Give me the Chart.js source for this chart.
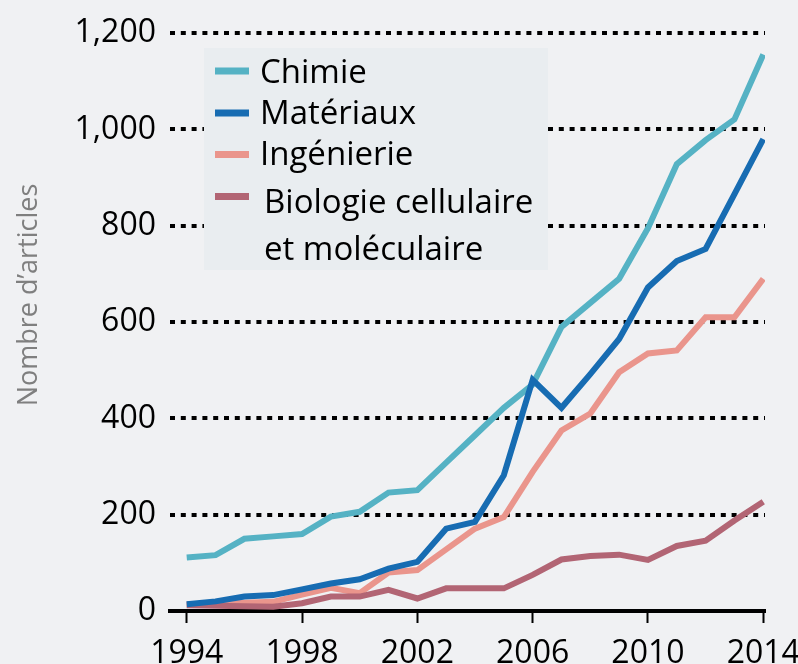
<!DOCTYPE html>
<html>
<head>
<meta charset="utf-8">
<script src="https://cdn.jsdelivr.net/npm/chart.js@4.4.1/dist/chart.umd.min.js"></script>
<style>
  html, body { margin: 0; padding: 0; background: #f0f1f3; }
  #wrap { width: 798px; height: 664px; }
</style>
</head>
<body>
<div id="wrap"><canvas id="chart" width="798" height="664"></canvas></div>
<script>
// Values
const years = [1994, 1995, 1996, 1997, 1998, 1999, 2000, 2001, 2002, 2003, 2004,
               2005, 2006, 2007, 2008, 2009, 2010, 2011, 2012, 2013, 2014];
const chimie = [111, 116, 150, 155, 160, 196, 206, 246, 251, 308, 365,
                422, 470, 590, 640, 690, 795, 928, 978, 1021, 1156];
const materiaux = [14, 20, 30, 33, 45, 57, 66, 88, 102, 171, 185,
                   282, 480, 422, 492, 565, 672, 727, 752, 866, 980];
const ingenierie = [14, 15, 17, 19, 34, 48, 37, 80, 85, 128, 171,
                    195, 289, 375, 410, 496, 535, 541, 610, 610, 690];
const biologie = [12, 11, 10, 9, 16, 30, 30, 44, 26, 47, 47,
                  47, 75, 107, 114, 117, 106, 135, 146, 188, 227];

const seriesNames = ['Chimie', 'Matériaux', 'Ingénierie', ['Biologie cellulaire', 'et moléculaire']];
const seriesColors = ['#55b2c4', '#176cb2', '#ea958c', '#b26574'];
const xTicks = [1994, 1998, 2002, 2006, 2010, 2014];
const yTicks = [0, 200, 400, 600, 800, 1000, 1200];
const yTitle = 'Nombre d\u2019articles';

const FONT = '"Open Sans", "Noto Sans", sans-serif';

function toPoints(values) {
    return values.map((v, i) => ({ x: years[i], y: v }));
}

const lineDefaults = {
    borderWidth: 6,
    pointRadius: 0,
    tension: 0,
    fill: false,
    borderJoinStyle: 'miter',
    borderCapStyle: 'butt'
};

// legend box + y title drawn by hand
const legendPlugin = {
    id: 'customLegend',
    afterDraw(chart) {
        const ctx = chart.ctx;
        ctx.save();
        ctx.fillStyle = '#e9edf0';
        ctx.fillRect(204, 48, 344, 222);

        const swatchY = [71, 113, 154.5, 196.5];
        const baseY = [83, 124, 165, 213];
        ctx.font = '33px ' + FONT;
        ctx.textBaseline = 'alphabetic';
        ctx.textAlign = 'left';
        seriesNames.forEach((name, i) => {
            ctx.fillStyle = seriesColors[i];
            ctx.fillRect(215, swatchY[i] - 3.5, 34, 7);
            ctx.fillStyle = '#000';
            const lines = Array.isArray(name) ? name : [name];
            const x = Array.isArray(name) ? 264 : 260;
            lines.forEach((t, j) => ctx.fillText(t, x, baseY[i] + j * 47));
        });

        // y axis title
        ctx.translate(37, 295);
        ctx.rotate(-Math.PI / 2);
        ctx.font = '27px ' + FONT;
        ctx.fillStyle = '#7f7f7f';
        ctx.textAlign = 'center';
        ctx.fillText(yTitle, 0, 0);
        ctx.restore();
    }
};

const ctx = document.getElementById('chart').getContext('2d');
const chart = new Chart(ctx, {
    type: 'line',
    data: {
        datasets: [
            Object.assign({ label: 'Chimie', data: toPoints(chimie), borderColor: seriesColors[0], order: 4 }, lineDefaults),
            Object.assign({ label: 'Matériaux', data: toPoints(materiaux), borderColor: seriesColors[1], order: 1 }, lineDefaults),
            Object.assign({ label: 'Ingénierie', data: toPoints(ingenierie), borderColor: seriesColors[2], order: 3 }, lineDefaults),
            Object.assign({ label: 'Biologie cellulaire et moléculaire', data: toPoints(biologie), borderColor: seriesColors[3], order: 2 }, lineDefaults)
        ]
    },
    options: {
        responsive: false,
        animation: false,
        layout: { padding: { top: 32, right: 33, left: 0, bottom: 0 } },
        plugins: {
            legend: { display: false },
            tooltip: { enabled: false }
        },
        scales: {
            x: {
                type: 'linear',
                min: 1993.42,
                max: 2014.06,
                afterBuildTicks: axis => { axis.ticks = xTicks.map(v => ({ value: v })); },
                afterFit: axis => {
                    axis.height = 53;
                    // labels may overhang the plot edges, as in the original
                    axis.paddingLeft = 0;
                    axis.paddingRight = 0;
                },
                grid: {
                    drawOnChartArea: false,
                    drawTicks: true,
                    tickLength: 12,
                    tickWidth: 2,
                    tickColor: '#000'
                },
                border: { display: true, color: '#000', width: 4 },
                ticks: {
                    color: '#000',
                    padding: 12,
                    maxRotation: 0,
                    autoSkip: false,
                    font: { family: FONT, size: 32 },
                    callback: v => String(v)
                }
            },
            y: {
                min: 0,
                max: 1200,
                afterBuildTicks: axis => { axis.ticks = yTicks.map(v => ({ value: v })); },
                afterFit: axis => { axis.width = 170; },
                grid: {
                    drawTicks: false,
                    color: '#000',
                    lineWidth: 4
                },
                border: { display: false, dash: [5, 5.8] },
                ticks: {
                    color: '#000',
                    padding: 14,
                    font: { family: FONT, size: 32 },
                    callback: v => v.toLocaleString('en-US')
                }
            }
        }
    },
    plugins: [legendPlugin]
});
</script>
</body>
</html>
